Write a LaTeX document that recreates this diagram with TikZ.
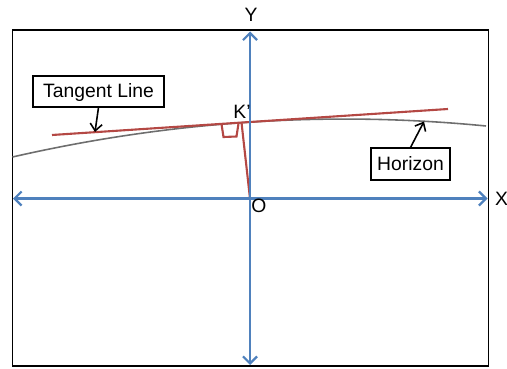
\documentclass[tikz,border=0pt]{standalone}
\usepackage{fontspec}
\setmainfont{Liberation Sans}
\usetikzlibrary{arrows.meta}
\definecolor{axisblue}{RGB}{79,129,189}
\definecolor{tangentred}{RGB}{180,72,68}
\definecolor{horizongray}{RGB}{110,110,110}

\begin{document}
\begin{tikzpicture}[x=1cm,y=1cm]
\tikzset{
  labelbox/.style={draw,rectangle,line width=0.6pt,inner sep=0pt,text height=0.716em,text depth=0pt,font=\fontsize{11}{13}\selectfont},
  axislabel/.style={inner sep=0pt,text height=0.716em,text depth=0pt,font=\fontsize{11}{13}\selectfont},
  axis/.style={{Straight Barb[length=1.4mm,width=2.8mm]}-{Straight Barb[length=1.4mm,width=2.8mm]},line width=1.3pt,axisblue},
  pointer/.style={-{Straight Barb[length=1.4mm,width=2.4mm]},line width=0.9pt},
  tangent/.style={line width=1.2pt,tangentred},
  horizon/.style={line width=0.9pt,horizongray}
}
\useasboundingbox (0,0) rectangle (10.14,7.36);
\draw[line width=0.7pt] (0.25,0.04) rectangle (9.77,6.76);
\coordinate (c_o) at (5.00,3.39);
\coordinate (c_k) at (4.83,4.91);
\coordinate (c_ta) at (1.04,4.66);
\coordinate (c_tb) at (8.96,5.18);
\coordinate (c_ha) at (0.25,4.22);
\coordinate (c_hb) at (9.72,4.84);
\coordinate (c_xa) at (0.26,3.39);
\coordinate (c_xb) at (9.75,3.39);
\coordinate (c_ya) at (5.00,0.06);
\coordinate (c_yb) at (5.00,6.73);
\coordinate (c_tp) at (1.90,4.72);
\coordinate (c_hp) at (8.48,4.93);
\draw[horizon] (c_ha) .. controls (3.40,4.94) and (6.56,5.15) .. (c_hb);
\draw[tangent] (c_ta) -- (c_tb);
\draw[tangent] (c_o) -- (c_k);
\draw[tangent] (4.43,4.88) -- (4.47,4.62) -- (4.73,4.63) -- (4.77,4.89);
\draw[axis] (c_xa) -- (c_xb);
\draw[axis] (c_ya) -- (c_yb);
\node[axislabel] (n_x) at (10.03,3.38) {X};
\node[axislabel] (n_y) at (5.02,7.05) {Y};
\node[axislabel] (n_o) at (5.18,3.23) {O};
\node[axislabel] (n_k) at (4.84,5.12) {K’};
\node[labelbox,minimum width=2.62cm,minimum height=0.62cm] (n_tangent) at (1.97,5.53) {Tangent Line};
\node[labelbox,minimum width=1.58cm,minimum height=0.64cm] (n_horizon) at (8.21,4.08) {Horizon};
\draw[pointer] (n_tangent.south) -- (c_tp);
\draw[pointer] (n_horizon.north) -- (c_hp);
\end{tikzpicture}
\end{document}
